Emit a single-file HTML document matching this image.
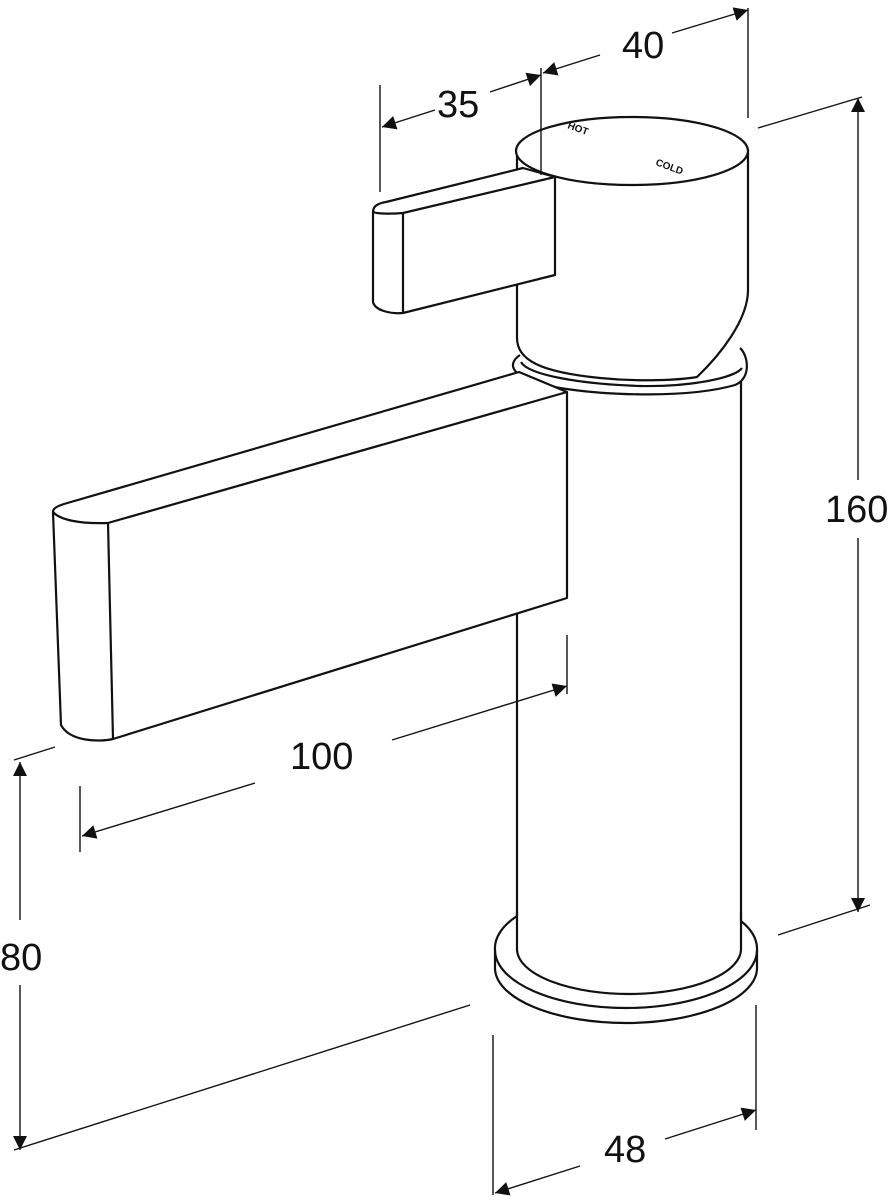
<!DOCTYPE html>
<html><head><meta charset="utf-8"><style>
html,body{margin:0;padding:0;background:#fff;width:893px;height:1200px;overflow:hidden}
svg{display:block}
text{font-family:"Liberation Sans",sans-serif;fill:#111}
</style></head><body>
<svg width="893" height="1200" viewBox="0 0 893 1200" xmlns="http://www.w3.org/2000/svg">
<defs>
<marker id="a" viewBox="0 0 10 10" refX="10" refY="5" markerWidth="26" markerHeight="14" markerUnits="userSpaceOnUse" orient="auto-start-reverse"><path d="M0,0 L10,5 L0,10 z" fill="#111"/></marker>
</defs>
<g fill="none" stroke="#111" stroke-width="2.2" stroke-linejoin="round">
<path d="M517,612 L517,950 M741,368 L741,945" fill="none"/>
<path d="M517,916 A131,58 0 0 0 495,950 L495,968 A131,55 0 0 0 757,968 L757,950 A131,58 0 0 0 741,921" fill="#fff"/>
<path d="M495,950 A131,58 0 0 0 757,950"/>
<path d="M517,912 L517,950 A112,45 0 0 0 741,948 L741,912"/>
<path d="M520,355 C505,365 512,380 560,388 C610,396 690,398 735,385 C752,378 748,355 740,348" fill="#fff"/>
<path d="M521,362 C528,375 580,384 640,386 C690,387 735,378 742,368"/>
<path d="M517,152 L517,338 C517,360 540,372 600,378 C640,382 680,380 697,377 C720,355 748,320 748,290 L748,150 Z" fill="#fff"/>
<ellipse cx="632" cy="151" rx="116" ry="34" fill="#fff"/>
<path d="M373,212 C373,205 380,203 386,202 L523,168 L555,177 L555,275 L403,313 C392,314 375,311 373,302 Z" fill="#fff"/>
<path d="M373,212 C378,214 392,214 403,213 L555,177"/>
<path d="M403,213 L403,313"/>
<path d="M53,512 C53,508 58,506 64,504 L519,372 L567,392 L567,598 L113,739 C100,742 70,742 61,725 Z" fill="#fff"/>
<path d="M53,512 C60,520 80,524 108,523 L567,392"/>
<path d="M108,523 L113,739"/>
</g>
<text x="567" y="128" font-size="10" font-weight="bold" transform="rotate(20 567 128)">HOT</text>
<text x="655" y="165" font-size="10" font-weight="bold" transform="rotate(20 655 165)">COLD</text>
<g stroke="#111" stroke-width="1.4" fill="none">
<path d="M541,68 L541,175 M748,8 L748,118 M380,85 L380,192"/>
<path d="M435,110 L382,127" marker-end="url(#a)"/>
<path d="M490,92 L541,75" marker-end="url(#a)"/>
<path d="M600,55 L543,73" marker-end="url(#a)"/>
<path d="M672,33 L748,10" marker-end="url(#a)"/>
<path d="M758,128 L862,97 M778,935 L870,905"/>
<path d="M858,480 L858,98" marker-end="url(#a)"/>
<path d="M858,538 L858,912" marker-end="url(#a)"/>
<path d="M567,635 L567,694 M80,786 L80,852"/>
<path d="M255,783 L82,836" marker-end="url(#a)"/>
<path d="M392,740 L567,686" marker-end="url(#a)"/>
<path d="M14,760 L55,747 M14,1150 L470,1005"/>
<path d="M20,920 L20,762" marker-end="url(#a)"/>
<path d="M20,985 L20,1150" marker-end="url(#a)"/>
<path d="M493,1035 L493,1195 M756,1005 L756,1130"/>
<path d="M580,1166 L495,1193" marker-end="url(#a)"/>
<path d="M665,1139 L756,1110" marker-end="url(#a)"/>
</g>
<g font-size="38">
<text x="622" y="58">40</text>
<text x="437" y="117">35</text>
<text x="825" y="522">160</text>
<text x="290" y="769">100</text>
<text x="0" y="970">80</text>
<text x="604" y="1162">48</text>
</g>
</svg>
</body></html>
